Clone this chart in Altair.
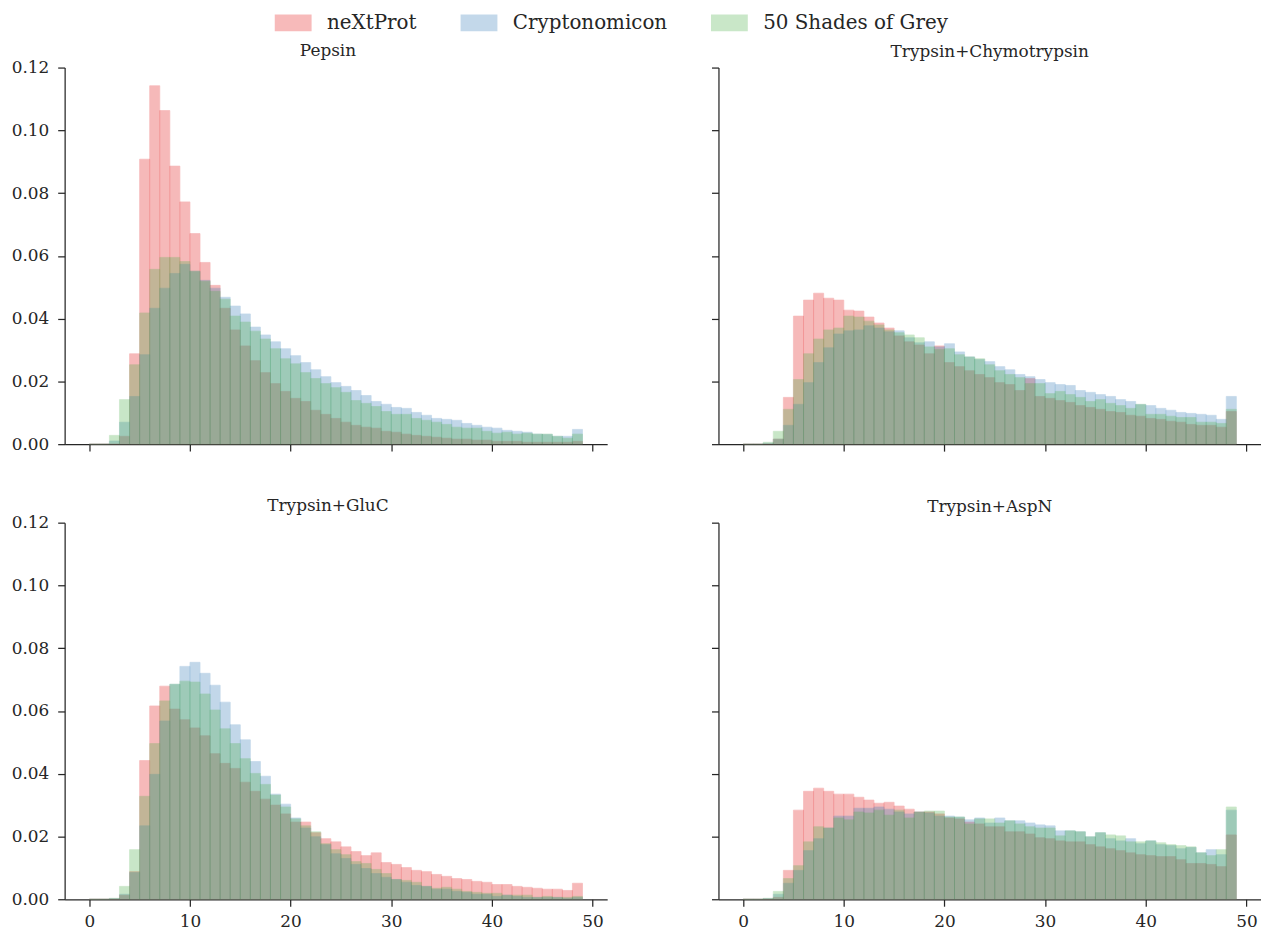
import altair as alt
import pandas as pd

series = ["neXtProt", "Cryptonomicon", "50 Shades of Grey"]
colors = ["#e41a1c", "#377eb8", "#4daf4a"]
panels = ["Pepsin", "Trypsin+Chymotrypsin", "Trypsin+GluC", "Trypsin+AspN"]
bin_starts = list(range(49))
x_ticks = [0, 10, 20, 30, 40, 50]
y_ticks = [0.0, 0.02, 0.04, 0.06, 0.08, 0.10, 0.12]

pepsin_nextprot = [0, 0, 0, 0.0025, 0.0288, 0.0908, 0.1142, 0.1063, 0.0886, 0.0772,
                   0.0671, 0.0579, 0.0506, 0.0433, 0.0364, 0.0313, 0.0266, 0.0228, 0.0193, 0.0168,
                   0.0146, 0.0136, 0.0108, 0.0095, 0.0082, 0.007, 0.006, 0.0054, 0.0051, 0.0041,
                   0.0038, 0.0032, 0.0028, 0.0025, 0.0022, 0.0019, 0.0016, 0.0016, 0.0013, 0.0013,
                   0.0009, 0.0009, 0.0009, 0.0006, 0.0006, 0.0006, 0.0006, 0.0006, 0.0009]
pepsin_crypto = [0, 0, 0.001, 0.007, 0.0152, 0.0285, 0.0433, 0.0497, 0.0544, 0.0573,
                 0.0551, 0.0522, 0.0497, 0.0468, 0.044, 0.0415, 0.0373, 0.0348, 0.0326, 0.0304,
                 0.0282, 0.026, 0.0237, 0.0215, 0.0196, 0.0184, 0.0171, 0.0155, 0.0136, 0.0127,
                 0.0117, 0.0114, 0.0101, 0.0092, 0.0082, 0.0079, 0.0076, 0.0066, 0.006, 0.0054,
                 0.0051, 0.0044, 0.0041, 0.0038, 0.0032, 0.0031, 0.0025, 0.0025, 0.0047]
pepsin_grey = [0, 0, 0.0028, 0.0142, 0.0253, 0.0418, 0.0557, 0.0595, 0.0595, 0.0582,
               0.0551, 0.0519, 0.0487, 0.0462, 0.0408, 0.0389, 0.036, 0.0335, 0.0304, 0.0272,
               0.0256, 0.0228, 0.0209, 0.0193, 0.018, 0.0165, 0.0139, 0.013, 0.012, 0.0104,
               0.0095, 0.0095, 0.0082, 0.0076, 0.007, 0.0063, 0.0054, 0.0051, 0.0051, 0.0041,
               0.0035, 0.0038, 0.0032, 0.0035, 0.0032, 0.0032, 0.0025, 0.0019, 0.0032]

chymo_nextprot = [0, 0, 0, 0.0016, 0.0149, 0.0408, 0.0459, 0.0481, 0.0465, 0.0459,
                  0.0427, 0.0424, 0.0405, 0.0386, 0.037, 0.0345, 0.0326, 0.0316, 0.0288, 0.0313,
                  0.026, 0.0247, 0.0234, 0.0222, 0.0212, 0.0196, 0.019, 0.0171, 0.0209, 0.0152,
                  0.0146, 0.0139, 0.0133, 0.0123, 0.0117, 0.0111, 0.0104, 0.0101, 0.0092, 0.0089,
                  0.0082, 0.0079, 0.0073, 0.007, 0.0063, 0.006, 0.006, 0.0054, 0.0104]
chymo_crypto = [0, 0, 0.0003, 0.0016, 0.006, 0.0127, 0.0196, 0.026, 0.0307, 0.0351,
                0.0361, 0.0364, 0.0377, 0.037, 0.0358, 0.0361, 0.0339, 0.0323, 0.0326, 0.031,
                0.032, 0.0294, 0.0278, 0.027, 0.0263, 0.0247, 0.0237, 0.0222, 0.0215, 0.0206,
                0.0196, 0.019, 0.0187, 0.0171, 0.0165, 0.0158, 0.0152, 0.0142, 0.0136, 0.0126,
                0.0123, 0.0114, 0.0108, 0.0101, 0.0098, 0.0095, 0.0092, 0.0079, 0.0152]
chymo_grey = [0, 0, 0.0006, 0.0041, 0.0111, 0.0206, 0.0288, 0.0335, 0.0364, 0.037,
              0.0408, 0.0405, 0.0392, 0.038, 0.0364, 0.0355, 0.0348, 0.0339, 0.031, 0.0302,
              0.0304, 0.0285, 0.0278, 0.0272, 0.0253, 0.0234, 0.0222, 0.0212, 0.0193, 0.0193,
              0.0161, 0.0168, 0.0158, 0.0149, 0.0136, 0.0142, 0.013, 0.0123, 0.0114, 0.0127,
              0.0095, 0.0095, 0.0089, 0.0085, 0.0085, 0.007, 0.007, 0.0066, 0.0111]

gluc_nextprot = [0, 0, 0, 0.0013, 0.0088, 0.0442, 0.0616, 0.0679, 0.0606, 0.0572,
                 0.0546, 0.0521, 0.0464, 0.0433, 0.0417, 0.0373, 0.0344, 0.0319, 0.03, 0.0272,
                 0.0246, 0.0246, 0.0212, 0.0193, 0.0183, 0.0167, 0.0152, 0.0139, 0.0148, 0.0117,
                 0.0111, 0.0101, 0.0092, 0.0088, 0.0079, 0.0073, 0.0066, 0.0063, 0.0057, 0.0054,
                 0.0047, 0.0047, 0.0041, 0.0038, 0.0035, 0.0032, 0.0032, 0.0028, 0.0051]
gluc_crypto = [0, 0, 0.0002, 0.0016, 0.0085, 0.0234, 0.0398, 0.0568, 0.0685, 0.0742,
               0.0755, 0.072, 0.0682, 0.0628, 0.0556, 0.0508, 0.0439, 0.0392, 0.0335, 0.0303,
               0.0259, 0.0227, 0.0199, 0.0174, 0.0145, 0.013, 0.0111, 0.0098, 0.0082, 0.007,
               0.0063, 0.0054, 0.0044, 0.0041, 0.0032, 0.0032, 0.0025, 0.0022, 0.0016, 0.0016,
               0.0009, 0.0013, 0.0009, 0.0006, 0.0006, 0.0006, 0.0006, 0.0003, 0.0006]
gluc_grey = [0, 0, 0.0003, 0.0041, 0.0158, 0.0328, 0.0496, 0.0632, 0.0685, 0.0695,
             0.0692, 0.0654, 0.0603, 0.0543, 0.0496, 0.0448, 0.0401, 0.0366, 0.0332, 0.0294,
             0.0256, 0.0234, 0.0215, 0.0177, 0.0158, 0.0142, 0.012, 0.0114, 0.0095, 0.0082,
             0.0063, 0.006, 0.0054, 0.0041, 0.0035, 0.0038, 0.0032, 0.0025, 0.0022, 0.0019,
             0.0019, 0.0013, 0.0013, 0.0013, 0.0006, 0.0009, 0.0006, 0.0006, 0.0009]

aspn_nextprot = [0, 0, 0, 0.0006, 0.0092, 0.0284, 0.0344, 0.0354, 0.0344, 0.0335,
                 0.0335, 0.0325, 0.0316, 0.0306, 0.0309, 0.0297, 0.0287, 0.0278, 0.0278, 0.0272,
                 0.0259, 0.0256, 0.0246, 0.024, 0.0231, 0.0231, 0.0215, 0.0215, 0.0208, 0.0196,
                 0.0193, 0.0186, 0.0183, 0.0183, 0.0174, 0.0167, 0.0161, 0.0155, 0.0148, 0.0142,
                 0.0139, 0.0136, 0.0136, 0.0126, 0.0114, 0.0114, 0.0111, 0.0104, 0.0205]
aspn_crypto = [0, 0, 0.0002, 0.0016, 0.0051, 0.0092, 0.0155, 0.0193, 0.0227, 0.0265,
               0.0265, 0.029, 0.029, 0.0294, 0.0287, 0.0278, 0.0272, 0.0278, 0.0275, 0.0265,
               0.0265, 0.0262, 0.0253, 0.0259, 0.0243, 0.0259, 0.025, 0.025, 0.0243, 0.0237,
               0.0234, 0.0218, 0.0218, 0.0215, 0.0199, 0.0212, 0.0193, 0.0186, 0.0193, 0.0177,
               0.0186, 0.0174, 0.0171, 0.0161, 0.0165, 0.0148, 0.0158, 0.0142, 0.0284]
aspn_grey = [0, 0, 0.0003, 0.0025, 0.0066, 0.0107, 0.0183, 0.0231, 0.0227, 0.0259,
             0.0253, 0.0278, 0.0275, 0.0284, 0.0268, 0.0284, 0.0259, 0.0278, 0.0281, 0.0281,
             0.0262, 0.0262, 0.024, 0.0256, 0.0256, 0.0243, 0.025, 0.024, 0.0231, 0.0227,
             0.0227, 0.0202, 0.0218, 0.0215, 0.0199, 0.0212, 0.0205, 0.0202, 0.0183, 0.0183,
             0.0186, 0.018, 0.0174, 0.0171, 0.0167, 0.0148, 0.0139, 0.0158, 0.0294]

values = {
    "Pepsin": [pepsin_nextprot, pepsin_crypto, pepsin_grey],
    "Trypsin+Chymotrypsin": [chymo_nextprot, chymo_crypto, chymo_grey],
    "Trypsin+GluC": [gluc_nextprot, gluc_crypto, gluc_grey],
    "Trypsin+AspN": [aspn_nextprot, aspn_crypto, aspn_grey],
}

rows = []
for p in panels:
    for s, vals in zip(series, values[p]):
        for b, v in zip(bin_starts, vals):
            rows.append({"panel": p, "series": s, "start": b, "end": b + 1, "value": v})
df = pd.DataFrame(rows)

FONT = "DejaVu Serif"
INK = "#262626"


def panel_chart(idx, name):
    show_x = idx >= 2
    show_y = idx % 2 == 0
    return (
        alt.Chart(df[df.panel == name])
        .mark_bar(opacity=0.3, strokeWidth=0.7)
        .encode(
            x=alt.X("start:Q",
                    scale=alt.Scale(domain=[-2.45, 51.45], nice=False, zero=False),
                    axis=alt.Axis(values=x_ticks, labels=show_x, title=None, format="d",
                                  labelFont=FONT, labelFontSize=17)),
            x2="end:Q",
            y=alt.Y("value:Q", stack=None,
                    scale=alt.Scale(domain=[0, 0.12], nice=False, padding=0),
                    axis=alt.Axis(values=y_ticks, labels=show_y, title=None, format=".2f",
                                  labelFont=FONT, labelFontSize=17)),
            y2=alt.datum(0),
            color=alt.Color("series:N", sort=series,
                            scale=alt.Scale(domain=series, range=colors),
                            legend=alt.Legend(
                                title=None, orient="none", legendX=220, legendY=-55,
                                direction="horizontal", columns=3,
                                symbolType="M-2.18,-1H2.18V1H-2.18Z", symbolSize=289,
                                symbolOpacity=0.3, symbolStrokeWidth=0,
                                labelFont=FONT, labelFontSize=20, labelColor=INK,
                                labelLimit=400, labelOffset=24, columnPadding=43)),
            stroke=alt.Stroke("series:N", sort=series,
                              scale=alt.Scale(domain=series, range=colors), legend=None),
        )
        .properties(width=546, height=379,
                    title=alt.TitleParams(name, font=FONT, fontSize=17, fontWeight="normal",
                                          frame="group", offset=6,
                                          dx=(-8 if show_y else 0),
                                          dy=(7 if show_y else 0)))
    )


charts = [panel_chart(i, n) for i, n in enumerate(panels)]
top = alt.hconcat(charts[0], charts[1], spacing=104)
bottom = alt.hconcat(charts[2], charts[3], spacing=104)
chart = (
    alt.vconcat(top, bottom, spacing=45)
    .properties(padding={"left": 3, "top": 2, "right": 0, "bottom": 0})
    .configure_view(stroke=None)
    .configure_axis(grid=False, labelFont=FONT, labelFontSize=17, labelColor=INK,
                    domainColor=INK, tickColor=INK, tickSize=7, tickWidth=1.25,
                    domainWidth=1.25)
    .configure_axisY(labelPadding=9)
    .configure_axisX(labelPadding=7)
    .configure_title(font=FONT, fontSize=17, fontWeight="normal", color=INK,
                     anchor="middle")
)

chart.save("out.html", embed_options={"renderer": "svg", "actions": False})
